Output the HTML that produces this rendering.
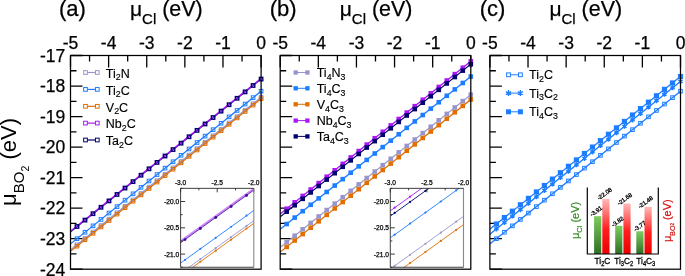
<!DOCTYPE html><html><head><meta charset="utf-8"><style>html,body{margin:0;padding:0;background:#fff;overflow:hidden}svg{display:block;will-change:transform}</style></head><body><svg width="685" height="276" viewBox="0 0 685 276" font-family='"Liberation Sans", sans-serif'>
<rect width="685" height="276" fill="#fff"/>
<path d="M70.5,55.5v12M89.56,55.5v6M108.62,55.5v12M127.68,55.5v6M146.74,55.5v12M165.8,55.5v6M184.86,55.5v12M203.92,55.5v6M222.98,55.5v12M242.04,55.5v6M261.1,55.5v12M70.5,55.5h12M70.5,70.76h6M70.5,86.03h12M70.5,101.29h6M70.5,116.56h12M70.5,131.82h6M70.5,147.09h12M70.5,162.35h6M70.5,177.61h12M70.5,192.88h6M70.5,208.14h12M70.5,223.41h6M70.5,238.67h12M70.5,253.94h6M70.5,269.2h12" stroke="#000" stroke-width="1.3" fill="none"/>
<clipPath id="cp0"><rect x="70.5" y="55.5" width="190.6" height="213.7"/></clipPath>
<g clip-path="url(#cp0)">
<line x1="62.88" y1="256.07" x2="261.1" y2="97.32" stroke="rgb(150,150,205)" stroke-width="1.3"/>
</g>
<rect x="259.3" y="95.52" width="3.6" height="3.6" fill="none" stroke="rgb(150,150,205)" stroke-width="1.0"/>
<rect x="251.29" y="101.94" width="3.6" height="3.6" fill="none" stroke="rgb(150,150,205)" stroke-width="1.0"/>
<rect x="243.29" y="108.35" width="3.6" height="3.6" fill="none" stroke="rgb(150,150,205)" stroke-width="1.0"/>
<rect x="235.28" y="114.76" width="3.6" height="3.6" fill="none" stroke="rgb(150,150,205)" stroke-width="1.0"/>
<rect x="227.28" y="121.17" width="3.6" height="3.6" fill="none" stroke="rgb(150,150,205)" stroke-width="1.0"/>
<rect x="219.27" y="127.58" width="3.6" height="3.6" fill="none" stroke="rgb(150,150,205)" stroke-width="1.0"/>
<rect x="211.27" y="133.99" width="3.6" height="3.6" fill="none" stroke="rgb(150,150,205)" stroke-width="1.0"/>
<rect x="203.26" y="140.4" width="3.6" height="3.6" fill="none" stroke="rgb(150,150,205)" stroke-width="1.0"/>
<rect x="195.26" y="146.81" width="3.6" height="3.6" fill="none" stroke="rgb(150,150,205)" stroke-width="1.0"/>
<rect x="187.25" y="153.22" width="3.6" height="3.6" fill="none" stroke="rgb(150,150,205)" stroke-width="1.0"/>
<rect x="179.25" y="159.63" width="3.6" height="3.6" fill="none" stroke="rgb(150,150,205)" stroke-width="1.0"/>
<rect x="171.24" y="166.05" width="3.6" height="3.6" fill="none" stroke="rgb(150,150,205)" stroke-width="1.0"/>
<rect x="163.24" y="172.46" width="3.6" height="3.6" fill="none" stroke="rgb(150,150,205)" stroke-width="1.0"/>
<rect x="155.23" y="178.87" width="3.6" height="3.6" fill="none" stroke="rgb(150,150,205)" stroke-width="1.0"/>
<rect x="147.23" y="185.28" width="3.6" height="3.6" fill="none" stroke="rgb(150,150,205)" stroke-width="1.0"/>
<rect x="139.22" y="191.69" width="3.6" height="3.6" fill="none" stroke="rgb(150,150,205)" stroke-width="1.0"/>
<rect x="131.22" y="198.1" width="3.6" height="3.6" fill="none" stroke="rgb(150,150,205)" stroke-width="1.0"/>
<rect x="123.21" y="204.51" width="3.6" height="3.6" fill="none" stroke="rgb(150,150,205)" stroke-width="1.0"/>
<rect x="115.21" y="210.92" width="3.6" height="3.6" fill="none" stroke="rgb(150,150,205)" stroke-width="1.0"/>
<rect x="107.2" y="217.33" width="3.6" height="3.6" fill="none" stroke="rgb(150,150,205)" stroke-width="1.0"/>
<rect x="99.2" y="223.74" width="3.6" height="3.6" fill="none" stroke="rgb(150,150,205)" stroke-width="1.0"/>
<rect x="91.19" y="230.16" width="3.6" height="3.6" fill="none" stroke="rgb(150,150,205)" stroke-width="1.0"/>
<rect x="83.19" y="236.57" width="3.6" height="3.6" fill="none" stroke="rgb(150,150,205)" stroke-width="1.0"/>
<rect x="75.18" y="242.98" width="3.6" height="3.6" fill="none" stroke="rgb(150,150,205)" stroke-width="1.0"/>
<g clip-path="url(#cp0)">
<line x1="62.88" y1="249.97" x2="261.1" y2="91.22" stroke="rgb(30,125,255)" stroke-width="1.3"/>
</g>
<rect x="259.3" y="89.42" width="3.6" height="3.6" fill="none" stroke="rgb(30,125,255)" stroke-width="1.0"/>
<rect x="251.29" y="95.83" width="3.6" height="3.6" fill="none" stroke="rgb(30,125,255)" stroke-width="1.0"/>
<rect x="243.29" y="102.24" width="3.6" height="3.6" fill="none" stroke="rgb(30,125,255)" stroke-width="1.0"/>
<rect x="235.28" y="108.65" width="3.6" height="3.6" fill="none" stroke="rgb(30,125,255)" stroke-width="1.0"/>
<rect x="227.28" y="115.06" width="3.6" height="3.6" fill="none" stroke="rgb(30,125,255)" stroke-width="1.0"/>
<rect x="219.27" y="121.47" width="3.6" height="3.6" fill="none" stroke="rgb(30,125,255)" stroke-width="1.0"/>
<rect x="211.27" y="127.88" width="3.6" height="3.6" fill="none" stroke="rgb(30,125,255)" stroke-width="1.0"/>
<rect x="203.26" y="134.3" width="3.6" height="3.6" fill="none" stroke="rgb(30,125,255)" stroke-width="1.0"/>
<rect x="195.26" y="140.71" width="3.6" height="3.6" fill="none" stroke="rgb(30,125,255)" stroke-width="1.0"/>
<rect x="187.25" y="147.12" width="3.6" height="3.6" fill="none" stroke="rgb(30,125,255)" stroke-width="1.0"/>
<rect x="179.25" y="153.53" width="3.6" height="3.6" fill="none" stroke="rgb(30,125,255)" stroke-width="1.0"/>
<rect x="171.24" y="159.94" width="3.6" height="3.6" fill="none" stroke="rgb(30,125,255)" stroke-width="1.0"/>
<rect x="163.24" y="166.35" width="3.6" height="3.6" fill="none" stroke="rgb(30,125,255)" stroke-width="1.0"/>
<rect x="155.23" y="172.76" width="3.6" height="3.6" fill="none" stroke="rgb(30,125,255)" stroke-width="1.0"/>
<rect x="147.23" y="179.17" width="3.6" height="3.6" fill="none" stroke="rgb(30,125,255)" stroke-width="1.0"/>
<rect x="139.22" y="185.58" width="3.6" height="3.6" fill="none" stroke="rgb(30,125,255)" stroke-width="1.0"/>
<rect x="131.22" y="191.99" width="3.6" height="3.6" fill="none" stroke="rgb(30,125,255)" stroke-width="1.0"/>
<rect x="123.21" y="198.41" width="3.6" height="3.6" fill="none" stroke="rgb(30,125,255)" stroke-width="1.0"/>
<rect x="115.21" y="204.82" width="3.6" height="3.6" fill="none" stroke="rgb(30,125,255)" stroke-width="1.0"/>
<rect x="107.2" y="211.23" width="3.6" height="3.6" fill="none" stroke="rgb(30,125,255)" stroke-width="1.0"/>
<rect x="99.2" y="217.64" width="3.6" height="3.6" fill="none" stroke="rgb(30,125,255)" stroke-width="1.0"/>
<rect x="91.19" y="224.05" width="3.6" height="3.6" fill="none" stroke="rgb(30,125,255)" stroke-width="1.0"/>
<rect x="83.19" y="230.46" width="3.6" height="3.6" fill="none" stroke="rgb(30,125,255)" stroke-width="1.0"/>
<rect x="75.18" y="236.87" width="3.6" height="3.6" fill="none" stroke="rgb(30,125,255)" stroke-width="1.0"/>
<g clip-path="url(#cp0)">
<line x1="62.88" y1="257.45" x2="261.1" y2="98.7" stroke="rgb(225,110,0)" stroke-width="1.3"/>
</g>
<rect x="259.3" y="96.9" width="3.6" height="3.6" fill="none" stroke="rgb(225,110,0)" stroke-width="1.0"/>
<rect x="251.29" y="103.31" width="3.6" height="3.6" fill="none" stroke="rgb(225,110,0)" stroke-width="1.0"/>
<rect x="243.29" y="109.72" width="3.6" height="3.6" fill="none" stroke="rgb(225,110,0)" stroke-width="1.0"/>
<rect x="235.28" y="116.13" width="3.6" height="3.6" fill="none" stroke="rgb(225,110,0)" stroke-width="1.0"/>
<rect x="227.28" y="122.54" width="3.6" height="3.6" fill="none" stroke="rgb(225,110,0)" stroke-width="1.0"/>
<rect x="219.27" y="128.95" width="3.6" height="3.6" fill="none" stroke="rgb(225,110,0)" stroke-width="1.0"/>
<rect x="211.27" y="135.36" width="3.6" height="3.6" fill="none" stroke="rgb(225,110,0)" stroke-width="1.0"/>
<rect x="203.26" y="141.77" width="3.6" height="3.6" fill="none" stroke="rgb(225,110,0)" stroke-width="1.0"/>
<rect x="195.26" y="148.19" width="3.6" height="3.6" fill="none" stroke="rgb(225,110,0)" stroke-width="1.0"/>
<rect x="187.25" y="154.6" width="3.6" height="3.6" fill="none" stroke="rgb(225,110,0)" stroke-width="1.0"/>
<rect x="179.25" y="161.01" width="3.6" height="3.6" fill="none" stroke="rgb(225,110,0)" stroke-width="1.0"/>
<rect x="171.24" y="167.42" width="3.6" height="3.6" fill="none" stroke="rgb(225,110,0)" stroke-width="1.0"/>
<rect x="163.24" y="173.83" width="3.6" height="3.6" fill="none" stroke="rgb(225,110,0)" stroke-width="1.0"/>
<rect x="155.23" y="180.24" width="3.6" height="3.6" fill="none" stroke="rgb(225,110,0)" stroke-width="1.0"/>
<rect x="147.23" y="186.65" width="3.6" height="3.6" fill="none" stroke="rgb(225,110,0)" stroke-width="1.0"/>
<rect x="139.22" y="193.06" width="3.6" height="3.6" fill="none" stroke="rgb(225,110,0)" stroke-width="1.0"/>
<rect x="131.22" y="199.47" width="3.6" height="3.6" fill="none" stroke="rgb(225,110,0)" stroke-width="1.0"/>
<rect x="123.21" y="205.88" width="3.6" height="3.6" fill="none" stroke="rgb(225,110,0)" stroke-width="1.0"/>
<rect x="115.21" y="212.3" width="3.6" height="3.6" fill="none" stroke="rgb(225,110,0)" stroke-width="1.0"/>
<rect x="107.2" y="218.71" width="3.6" height="3.6" fill="none" stroke="rgb(225,110,0)" stroke-width="1.0"/>
<rect x="99.2" y="225.12" width="3.6" height="3.6" fill="none" stroke="rgb(225,110,0)" stroke-width="1.0"/>
<rect x="91.19" y="231.53" width="3.6" height="3.6" fill="none" stroke="rgb(225,110,0)" stroke-width="1.0"/>
<rect x="83.19" y="237.94" width="3.6" height="3.6" fill="none" stroke="rgb(225,110,0)" stroke-width="1.0"/>
<rect x="75.18" y="244.35" width="3.6" height="3.6" fill="none" stroke="rgb(225,110,0)" stroke-width="1.0"/>
<g clip-path="url(#cp0)">
<line x1="62.88" y1="237.82" x2="261.1" y2="79.07" stroke="rgb(0,0,110)" stroke-width="1.3"/>
</g>
<g clip-path="url(#cp0)">
<line x1="62.88" y1="237.36" x2="261.1" y2="78.61" stroke="rgb(170,25,245)" stroke-width="1.5"/>
</g>
<rect x="259.4" y="77.37" width="3.4" height="3.4" fill="none" stroke="rgb(0,0,110)" stroke-width="1.4"/>
<rect x="251.39" y="83.78" width="3.4" height="3.4" fill="none" stroke="rgb(0,0,110)" stroke-width="1.4"/>
<rect x="243.39" y="90.19" width="3.4" height="3.4" fill="none" stroke="rgb(0,0,110)" stroke-width="1.4"/>
<rect x="235.38" y="96.6" width="3.4" height="3.4" fill="none" stroke="rgb(0,0,110)" stroke-width="1.4"/>
<rect x="227.38" y="103.01" width="3.4" height="3.4" fill="none" stroke="rgb(0,0,110)" stroke-width="1.4"/>
<rect x="219.37" y="109.42" width="3.4" height="3.4" fill="none" stroke="rgb(0,0,110)" stroke-width="1.4"/>
<rect x="211.37" y="115.83" width="3.4" height="3.4" fill="none" stroke="rgb(0,0,110)" stroke-width="1.4"/>
<rect x="203.36" y="122.25" width="3.4" height="3.4" fill="none" stroke="rgb(0,0,110)" stroke-width="1.4"/>
<rect x="195.36" y="128.66" width="3.4" height="3.4" fill="none" stroke="rgb(0,0,110)" stroke-width="1.4"/>
<rect x="187.35" y="135.07" width="3.4" height="3.4" fill="none" stroke="rgb(0,0,110)" stroke-width="1.4"/>
<rect x="179.35" y="141.48" width="3.4" height="3.4" fill="none" stroke="rgb(0,0,110)" stroke-width="1.4"/>
<rect x="171.34" y="147.89" width="3.4" height="3.4" fill="none" stroke="rgb(0,0,110)" stroke-width="1.4"/>
<rect x="163.34" y="154.3" width="3.4" height="3.4" fill="none" stroke="rgb(0,0,110)" stroke-width="1.4"/>
<rect x="155.33" y="160.71" width="3.4" height="3.4" fill="none" stroke="rgb(0,0,110)" stroke-width="1.4"/>
<rect x="147.33" y="167.12" width="3.4" height="3.4" fill="none" stroke="rgb(0,0,110)" stroke-width="1.4"/>
<rect x="139.32" y="173.53" width="3.4" height="3.4" fill="none" stroke="rgb(0,0,110)" stroke-width="1.4"/>
<rect x="131.32" y="179.94" width="3.4" height="3.4" fill="none" stroke="rgb(0,0,110)" stroke-width="1.4"/>
<rect x="123.31" y="186.36" width="3.4" height="3.4" fill="none" stroke="rgb(0,0,110)" stroke-width="1.4"/>
<rect x="115.31" y="192.77" width="3.4" height="3.4" fill="none" stroke="rgb(0,0,110)" stroke-width="1.4"/>
<rect x="107.3" y="199.18" width="3.4" height="3.4" fill="none" stroke="rgb(0,0,110)" stroke-width="1.4"/>
<rect x="99.3" y="205.59" width="3.4" height="3.4" fill="none" stroke="rgb(0,0,110)" stroke-width="1.4"/>
<rect x="91.29" y="212" width="3.4" height="3.4" fill="none" stroke="rgb(0,0,110)" stroke-width="1.4"/>
<rect x="83.29" y="218.41" width="3.4" height="3.4" fill="none" stroke="rgb(0,0,110)" stroke-width="1.4"/>
<rect x="75.28" y="224.82" width="3.4" height="3.4" fill="none" stroke="rgb(0,0,110)" stroke-width="1.4"/>
<rect x="70.5" y="55.5" width="190.6" height="213.7" fill="none" stroke="#000" stroke-width="1.25"/>
<text x="70.5" y="48.8" font-size="17.5" text-anchor="middle" fill="#000" stroke="#000" stroke-width="0.25">-5</text>
<text x="108.62" y="48.8" font-size="17.5" text-anchor="middle" fill="#000" stroke="#000" stroke-width="0.25">-4</text>
<text x="146.74" y="48.8" font-size="17.5" text-anchor="middle" fill="#000" stroke="#000" stroke-width="0.25">-3</text>
<text x="184.86" y="48.8" font-size="17.5" text-anchor="middle" fill="#000" stroke="#000" stroke-width="0.25">-2</text>
<text x="222.98" y="48.8" font-size="17.5" text-anchor="middle" fill="#000" stroke="#000" stroke-width="0.25">-1</text>
<text x="261.1" y="48.8" font-size="17.5" text-anchor="middle" fill="#000" stroke="#000" stroke-width="0.25">0</text>
<text x="65.3" y="61.8" font-size="17.5" text-anchor="end" fill="#000" stroke="#000" stroke-width="0.25">-17</text>
<text x="65.3" y="92.33" font-size="17.5" text-anchor="end" fill="#000" stroke="#000" stroke-width="0.25">-18</text>
<text x="65.3" y="122.86" font-size="17.5" text-anchor="end" fill="#000" stroke="#000" stroke-width="0.25">-19</text>
<text x="65.3" y="153.39" font-size="17.5" text-anchor="end" fill="#000" stroke="#000" stroke-width="0.25">-20</text>
<text x="65.3" y="183.91" font-size="17.5" text-anchor="end" fill="#000" stroke="#000" stroke-width="0.25">-21</text>
<text x="65.3" y="214.44" font-size="17.5" text-anchor="end" fill="#000" stroke="#000" stroke-width="0.25">-22</text>
<text x="65.3" y="244.97" font-size="17.5" text-anchor="end" fill="#000" stroke="#000" stroke-width="0.25">-23</text>
<text x="65.3" y="275.5" font-size="17.5" text-anchor="end" fill="#000" stroke="#000" stroke-width="0.25">-24</text>
<text x="58.9" y="16.4" font-size="22" text-anchor="start" fill="#000" stroke="#000" stroke-width="0.25">(a)</text>
<text x="130" y="16.4" font-size="22" text-anchor="start" fill="#000" stroke="#000" stroke-width="0.25"><tspan font-size="21">μ</tspan><tspan font-size="15" dy="7.9">Cl</tspan><tspan dy="-7.9" font-size="21.4"> (eV)</tspan></text>
<line x1="85.5" y1="72.5" x2="97.3" y2="72.5" stroke="rgb(150,150,205)" stroke-width="1.2"/>
<rect x="83.65" y="70.65" width="3.7" height="3.7" fill="#fff" stroke="rgb(150,150,205)" stroke-width="1.0"/>
<rect x="95.45" y="70.65" width="3.7" height="3.7" fill="#fff" stroke="rgb(150,150,205)" stroke-width="1.0"/>
<text x="105.8" y="77.7" font-size="12.5" text-anchor="start" fill="#000" stroke="#000" stroke-width="0.15"><tspan dy="0">Ti</tspan><tspan font-size="8.8" dy="2.7">2</tspan><tspan dy="-2.7">N</tspan></text>
<line x1="85.5" y1="89.4" x2="97.3" y2="89.4" stroke="rgb(30,125,255)" stroke-width="1.2"/>
<rect x="83.65" y="87.55" width="3.7" height="3.7" fill="#fff" stroke="rgb(30,125,255)" stroke-width="1.0"/>
<rect x="95.45" y="87.55" width="3.7" height="3.7" fill="#fff" stroke="rgb(30,125,255)" stroke-width="1.0"/>
<text x="105.8" y="94.6" font-size="12.5" text-anchor="start" fill="#000" stroke="#000" stroke-width="0.15"><tspan dy="0">Ti</tspan><tspan font-size="8.8" dy="2.7">2</tspan><tspan dy="-2.7">C</tspan></text>
<line x1="85.5" y1="106.3" x2="97.3" y2="106.3" stroke="rgb(225,110,0)" stroke-width="1.2"/>
<rect x="83.65" y="104.45" width="3.7" height="3.7" fill="#fff" stroke="rgb(225,110,0)" stroke-width="1.0"/>
<rect x="95.45" y="104.45" width="3.7" height="3.7" fill="#fff" stroke="rgb(225,110,0)" stroke-width="1.0"/>
<text x="105.8" y="111.5" font-size="12.5" text-anchor="start" fill="#000" stroke="#000" stroke-width="0.15"><tspan dy="0">V</tspan><tspan font-size="8.8" dy="2.7">2</tspan><tspan dy="-2.7">C</tspan></text>
<line x1="85.5" y1="123.1" x2="97.3" y2="123.1" stroke="rgb(170,25,245)" stroke-width="1.2"/>
<rect x="83.65" y="121.25" width="3.7" height="3.7" fill="#fff" stroke="rgb(170,25,245)" stroke-width="1.0"/>
<rect x="95.45" y="121.25" width="3.7" height="3.7" fill="#fff" stroke="rgb(170,25,245)" stroke-width="1.0"/>
<text x="105.8" y="128.3" font-size="12.5" text-anchor="start" fill="#000" stroke="#000" stroke-width="0.15"><tspan dy="0">Nb</tspan><tspan font-size="8.8" dy="2.7">2</tspan><tspan dy="-2.7">C</tspan></text>
<line x1="85.5" y1="140" x2="97.3" y2="140" stroke="rgb(0,0,110)" stroke-width="1.2"/>
<rect x="83.65" y="138.15" width="3.7" height="3.7" fill="#fff" stroke="rgb(0,0,110)" stroke-width="1.0"/>
<rect x="95.45" y="138.15" width="3.7" height="3.7" fill="#fff" stroke="rgb(0,0,110)" stroke-width="1.0"/>
<text x="105.8" y="145.2" font-size="12.5" text-anchor="start" fill="#000" stroke="#000" stroke-width="0.15"><tspan dy="0">Ta</tspan><tspan font-size="8.8" dy="2.7">2</tspan><tspan dy="-2.7">C</tspan></text>
<rect x="180.6" y="188.35" width="73.2" height="78.9" fill="#fff"/>
<clipPath id="ic0"><rect x="180.6" y="188.35" width="73.2" height="78.9"/></clipPath>
<g clip-path="url(#ic0)">
<line x1="165.96" y1="283.82" x2="268.44" y2="210.18" stroke="rgb(150,150,205)" stroke-width="0.9"/>
<circle cx="261.85" cy="214.91" r="1.1" fill="rgb(150,150,205)"/>
<circle cx="246.48" cy="225.96" r="1.1" fill="rgb(150,150,205)"/>
<circle cx="231.11" cy="237" r="1.1" fill="rgb(150,150,205)"/>
<circle cx="215.74" cy="248.05" r="1.1" fill="rgb(150,150,205)"/>
<circle cx="200.36" cy="259.1" r="1.1" fill="rgb(150,150,205)"/>
<circle cx="184.99" cy="270.14" r="1.1" fill="rgb(150,150,205)"/>
<circle cx="169.62" cy="281.19" r="1.1" fill="rgb(150,150,205)"/>
<line x1="165.96" y1="273.56" x2="268.44" y2="199.92" stroke="rgb(30,125,255)" stroke-width="0.9"/>
<circle cx="261.85" cy="204.66" r="1.1" fill="rgb(30,125,255)"/>
<circle cx="246.48" cy="215.7" r="1.1" fill="rgb(30,125,255)"/>
<circle cx="231.11" cy="226.75" r="1.1" fill="rgb(30,125,255)"/>
<circle cx="215.74" cy="237.79" r="1.1" fill="rgb(30,125,255)"/>
<circle cx="200.36" cy="248.84" r="1.1" fill="rgb(30,125,255)"/>
<circle cx="184.99" cy="259.89" r="1.1" fill="rgb(30,125,255)"/>
<circle cx="169.62" cy="270.93" r="1.1" fill="rgb(30,125,255)"/>
<line x1="165.96" y1="286.45" x2="268.44" y2="212.81" stroke="rgb(225,110,0)" stroke-width="0.9"/>
<circle cx="261.85" cy="217.54" r="1.1" fill="rgb(225,110,0)"/>
<circle cx="246.48" cy="228.59" r="1.1" fill="rgb(225,110,0)"/>
<circle cx="231.11" cy="239.63" r="1.1" fill="rgb(225,110,0)"/>
<circle cx="215.74" cy="250.68" r="1.1" fill="rgb(225,110,0)"/>
<circle cx="200.36" cy="261.73" r="1.1" fill="rgb(225,110,0)"/>
<circle cx="184.99" cy="272.77" r="1.1" fill="rgb(225,110,0)"/>
<circle cx="169.62" cy="283.82" r="1.1" fill="rgb(225,110,0)"/>
<line x1="165.96" y1="251.92" x2="268.44" y2="178.28" stroke="rgb(205,132,250)" stroke-width="2.0"/>
<line x1="165.96" y1="253.28" x2="268.44" y2="179.64" stroke="rgb(60,15,150)" stroke-width="0.8"/>
<circle cx="261.85" cy="184.38" r="1.45" fill="rgb(60,15,150)"/>
<circle cx="246.48" cy="195.43" r="1.45" fill="rgb(60,15,150)"/>
<circle cx="231.11" cy="206.47" r="1.45" fill="rgb(60,15,150)"/>
<circle cx="215.74" cy="217.52" r="1.45" fill="rgb(60,15,150)"/>
<circle cx="200.36" cy="228.56" r="1.45" fill="rgb(60,15,150)"/>
<circle cx="184.99" cy="239.61" r="1.45" fill="rgb(60,15,150)"/>
<circle cx="169.62" cy="250.65" r="1.45" fill="rgb(60,15,150)"/>
</g>
<path d="M180.6,188.35v4M198.9,188.35v2M217.2,188.35v4M235.5,188.35v2M253.8,188.35v4M180.6,188.35h2M180.6,201.5h4.5M180.6,214.65h2M180.6,227.8h4.5M180.6,240.95h2M180.6,254.1h4.5M180.6,267.25h2" stroke="#222" stroke-width="0.9" fill="none"/>
<path d="M253.8,188.35V267.25" stroke="#888" stroke-width="1.1" fill="none"/>
<path d="M253.8,188.35H180.6V267.25H253.8" stroke="#2a2a2a" stroke-width="0.9" fill="none"/>
<text x="180.6" y="185" font-size="6.6" text-anchor="middle" fill="#000" stroke="#000" stroke-width="0.25">-3.0</text>
<text x="217.2" y="185" font-size="6.6" text-anchor="middle" fill="#000" stroke="#000" stroke-width="0.25">-2.5</text>
<text x="253.8" y="185" font-size="6.6" text-anchor="middle" fill="#000" stroke="#000" stroke-width="0.25">-2.0</text>
<text x="179.2" y="203.9" font-size="6.6" text-anchor="end" fill="#000" stroke="#000" stroke-width="0.25">-20.0</text>
<text x="179.2" y="230.2" font-size="6.6" text-anchor="end" fill="#000" stroke="#000" stroke-width="0.25">-20.5</text>
<text x="179.2" y="256.5" font-size="6.6" text-anchor="end" fill="#000" stroke="#000" stroke-width="0.25">-21.0</text>
<path d="M280.2,55.5v12M299.26,55.5v6M318.32,55.5v12M337.38,55.5v6M356.44,55.5v12M375.5,55.5v6M394.56,55.5v12M413.62,55.5v6M432.68,55.5v12M451.74,55.5v6M470.8,55.5v12M280.2,55.5h12M280.2,70.76h6M280.2,86.03h12M280.2,101.29h6M280.2,116.56h12M280.2,131.82h6M280.2,147.09h12M280.2,162.35h6M280.2,177.61h12M280.2,192.88h6M280.2,208.14h12M280.2,223.41h6M280.2,238.67h12M280.2,253.94h6M280.2,269.2h12" stroke="#000" stroke-width="1.3" fill="none"/>
<clipPath id="cp1"><rect x="280.2" y="55.5" width="190.6" height="213.7"/></clipPath>
<g clip-path="url(#cp1)">
<line x1="272.58" y1="253.42" x2="470.8" y2="94.67" stroke="rgb(150,150,205)" stroke-width="1.3"/>
</g>
<rect x="468.5" y="92.37" width="4.6" height="4.6" fill="rgb(150,150,205)"/>
<rect x="460.49" y="98.78" width="4.6" height="4.6" fill="rgb(150,150,205)"/>
<rect x="452.49" y="105.19" width="4.6" height="4.6" fill="rgb(150,150,205)"/>
<rect x="444.48" y="111.6" width="4.6" height="4.6" fill="rgb(150,150,205)"/>
<rect x="436.48" y="118.01" width="4.6" height="4.6" fill="rgb(150,150,205)"/>
<rect x="428.47" y="124.42" width="4.6" height="4.6" fill="rgb(150,150,205)"/>
<rect x="420.47" y="130.83" width="4.6" height="4.6" fill="rgb(150,150,205)"/>
<rect x="412.46" y="137.25" width="4.6" height="4.6" fill="rgb(150,150,205)"/>
<rect x="404.46" y="143.66" width="4.6" height="4.6" fill="rgb(150,150,205)"/>
<rect x="396.45" y="150.07" width="4.6" height="4.6" fill="rgb(150,150,205)"/>
<rect x="388.45" y="156.48" width="4.6" height="4.6" fill="rgb(150,150,205)"/>
<rect x="380.44" y="162.89" width="4.6" height="4.6" fill="rgb(150,150,205)"/>
<rect x="372.44" y="169.3" width="4.6" height="4.6" fill="rgb(150,150,205)"/>
<rect x="364.43" y="175.71" width="4.6" height="4.6" fill="rgb(150,150,205)"/>
<rect x="356.43" y="182.12" width="4.6" height="4.6" fill="rgb(150,150,205)"/>
<rect x="348.42" y="188.53" width="4.6" height="4.6" fill="rgb(150,150,205)"/>
<rect x="340.42" y="194.94" width="4.6" height="4.6" fill="rgb(150,150,205)"/>
<rect x="332.41" y="201.36" width="4.6" height="4.6" fill="rgb(150,150,205)"/>
<rect x="324.41" y="207.77" width="4.6" height="4.6" fill="rgb(150,150,205)"/>
<rect x="316.4" y="214.18" width="4.6" height="4.6" fill="rgb(150,150,205)"/>
<rect x="308.4" y="220.59" width="4.6" height="4.6" fill="rgb(150,150,205)"/>
<rect x="300.39" y="227" width="4.6" height="4.6" fill="rgb(150,150,205)"/>
<rect x="292.39" y="233.41" width="4.6" height="4.6" fill="rgb(150,150,205)"/>
<rect x="284.38" y="239.82" width="4.6" height="4.6" fill="rgb(150,150,205)"/>
<g clip-path="url(#cp1)">
<line x1="272.58" y1="235.31" x2="470.8" y2="76.56" stroke="rgb(30,125,255)" stroke-width="1.3"/>
</g>
<rect x="468.5" y="74.26" width="4.6" height="4.6" fill="rgb(30,125,255)"/>
<rect x="460.49" y="80.68" width="4.6" height="4.6" fill="rgb(30,125,255)"/>
<rect x="452.49" y="87.09" width="4.6" height="4.6" fill="rgb(30,125,255)"/>
<rect x="444.48" y="93.5" width="4.6" height="4.6" fill="rgb(30,125,255)"/>
<rect x="436.48" y="99.91" width="4.6" height="4.6" fill="rgb(30,125,255)"/>
<rect x="428.47" y="106.32" width="4.6" height="4.6" fill="rgb(30,125,255)"/>
<rect x="420.47" y="112.73" width="4.6" height="4.6" fill="rgb(30,125,255)"/>
<rect x="412.46" y="119.14" width="4.6" height="4.6" fill="rgb(30,125,255)"/>
<rect x="404.46" y="125.55" width="4.6" height="4.6" fill="rgb(30,125,255)"/>
<rect x="396.45" y="131.96" width="4.6" height="4.6" fill="rgb(30,125,255)"/>
<rect x="388.45" y="138.37" width="4.6" height="4.6" fill="rgb(30,125,255)"/>
<rect x="380.44" y="144.79" width="4.6" height="4.6" fill="rgb(30,125,255)"/>
<rect x="372.44" y="151.2" width="4.6" height="4.6" fill="rgb(30,125,255)"/>
<rect x="364.43" y="157.61" width="4.6" height="4.6" fill="rgb(30,125,255)"/>
<rect x="356.43" y="164.02" width="4.6" height="4.6" fill="rgb(30,125,255)"/>
<rect x="348.42" y="170.43" width="4.6" height="4.6" fill="rgb(30,125,255)"/>
<rect x="340.42" y="176.84" width="4.6" height="4.6" fill="rgb(30,125,255)"/>
<rect x="332.41" y="183.25" width="4.6" height="4.6" fill="rgb(30,125,255)"/>
<rect x="324.41" y="189.66" width="4.6" height="4.6" fill="rgb(30,125,255)"/>
<rect x="316.4" y="196.07" width="4.6" height="4.6" fill="rgb(30,125,255)"/>
<rect x="308.4" y="202.48" width="4.6" height="4.6" fill="rgb(30,125,255)"/>
<rect x="300.39" y="208.9" width="4.6" height="4.6" fill="rgb(30,125,255)"/>
<rect x="292.39" y="215.31" width="4.6" height="4.6" fill="rgb(30,125,255)"/>
<rect x="284.38" y="221.72" width="4.6" height="4.6" fill="rgb(30,125,255)"/>
<g clip-path="url(#cp1)">
<line x1="272.58" y1="258.21" x2="470.8" y2="99.46" stroke="rgb(225,110,0)" stroke-width="1.3"/>
</g>
<rect x="468.5" y="97.16" width="4.6" height="4.6" fill="rgb(225,110,0)"/>
<rect x="460.49" y="103.57" width="4.6" height="4.6" fill="rgb(225,110,0)"/>
<rect x="452.49" y="109.98" width="4.6" height="4.6" fill="rgb(225,110,0)"/>
<rect x="444.48" y="116.39" width="4.6" height="4.6" fill="rgb(225,110,0)"/>
<rect x="436.48" y="122.81" width="4.6" height="4.6" fill="rgb(225,110,0)"/>
<rect x="428.47" y="129.22" width="4.6" height="4.6" fill="rgb(225,110,0)"/>
<rect x="420.47" y="135.63" width="4.6" height="4.6" fill="rgb(225,110,0)"/>
<rect x="412.46" y="142.04" width="4.6" height="4.6" fill="rgb(225,110,0)"/>
<rect x="404.46" y="148.45" width="4.6" height="4.6" fill="rgb(225,110,0)"/>
<rect x="396.45" y="154.86" width="4.6" height="4.6" fill="rgb(225,110,0)"/>
<rect x="388.45" y="161.27" width="4.6" height="4.6" fill="rgb(225,110,0)"/>
<rect x="380.44" y="167.68" width="4.6" height="4.6" fill="rgb(225,110,0)"/>
<rect x="372.44" y="174.09" width="4.6" height="4.6" fill="rgb(225,110,0)"/>
<rect x="364.43" y="180.5" width="4.6" height="4.6" fill="rgb(225,110,0)"/>
<rect x="356.43" y="186.92" width="4.6" height="4.6" fill="rgb(225,110,0)"/>
<rect x="348.42" y="193.33" width="4.6" height="4.6" fill="rgb(225,110,0)"/>
<rect x="340.42" y="199.74" width="4.6" height="4.6" fill="rgb(225,110,0)"/>
<rect x="332.41" y="206.15" width="4.6" height="4.6" fill="rgb(225,110,0)"/>
<rect x="324.41" y="212.56" width="4.6" height="4.6" fill="rgb(225,110,0)"/>
<rect x="316.4" y="218.97" width="4.6" height="4.6" fill="rgb(225,110,0)"/>
<rect x="308.4" y="225.38" width="4.6" height="4.6" fill="rgb(225,110,0)"/>
<rect x="300.39" y="231.79" width="4.6" height="4.6" fill="rgb(225,110,0)"/>
<rect x="292.39" y="238.2" width="4.6" height="4.6" fill="rgb(225,110,0)"/>
<rect x="284.38" y="244.61" width="4.6" height="4.6" fill="rgb(225,110,0)"/>
<g clip-path="url(#cp1)">
<line x1="272.58" y1="220.05" x2="470.8" y2="61.3" stroke="rgb(170,25,245)" stroke-width="1.3"/>
</g>
<rect x="468.5" y="59" width="4.6" height="4.6" fill="rgb(170,25,245)"/>
<rect x="460.49" y="65.41" width="4.6" height="4.6" fill="rgb(170,25,245)"/>
<rect x="452.49" y="71.82" width="4.6" height="4.6" fill="rgb(170,25,245)"/>
<rect x="444.48" y="78.23" width="4.6" height="4.6" fill="rgb(170,25,245)"/>
<rect x="436.48" y="84.64" width="4.6" height="4.6" fill="rgb(170,25,245)"/>
<rect x="428.47" y="91.06" width="4.6" height="4.6" fill="rgb(170,25,245)"/>
<rect x="420.47" y="97.47" width="4.6" height="4.6" fill="rgb(170,25,245)"/>
<rect x="412.46" y="103.88" width="4.6" height="4.6" fill="rgb(170,25,245)"/>
<rect x="404.46" y="110.29" width="4.6" height="4.6" fill="rgb(170,25,245)"/>
<rect x="396.45" y="116.7" width="4.6" height="4.6" fill="rgb(170,25,245)"/>
<rect x="388.45" y="123.11" width="4.6" height="4.6" fill="rgb(170,25,245)"/>
<rect x="380.44" y="129.52" width="4.6" height="4.6" fill="rgb(170,25,245)"/>
<rect x="372.44" y="135.93" width="4.6" height="4.6" fill="rgb(170,25,245)"/>
<rect x="364.43" y="142.34" width="4.6" height="4.6" fill="rgb(170,25,245)"/>
<rect x="356.43" y="148.75" width="4.6" height="4.6" fill="rgb(170,25,245)"/>
<rect x="348.42" y="155.17" width="4.6" height="4.6" fill="rgb(170,25,245)"/>
<rect x="340.42" y="161.58" width="4.6" height="4.6" fill="rgb(170,25,245)"/>
<rect x="332.41" y="167.99" width="4.6" height="4.6" fill="rgb(170,25,245)"/>
<rect x="324.41" y="174.4" width="4.6" height="4.6" fill="rgb(170,25,245)"/>
<rect x="316.4" y="180.81" width="4.6" height="4.6" fill="rgb(170,25,245)"/>
<rect x="308.4" y="187.22" width="4.6" height="4.6" fill="rgb(170,25,245)"/>
<rect x="300.39" y="193.63" width="4.6" height="4.6" fill="rgb(170,25,245)"/>
<rect x="292.39" y="200.04" width="4.6" height="4.6" fill="rgb(170,25,245)"/>
<rect x="284.38" y="206.45" width="4.6" height="4.6" fill="rgb(170,25,245)"/>
<g clip-path="url(#cp1)">
<line x1="272.58" y1="222.95" x2="470.8" y2="64.2" stroke="rgb(0,0,110)" stroke-width="1.3"/>
</g>
<rect x="468.5" y="61.9" width="4.6" height="4.6" fill="rgb(0,0,110)"/>
<rect x="460.49" y="68.31" width="4.6" height="4.6" fill="rgb(0,0,110)"/>
<rect x="452.49" y="74.72" width="4.6" height="4.6" fill="rgb(0,0,110)"/>
<rect x="444.48" y="81.13" width="4.6" height="4.6" fill="rgb(0,0,110)"/>
<rect x="436.48" y="87.54" width="4.6" height="4.6" fill="rgb(0,0,110)"/>
<rect x="428.47" y="93.96" width="4.6" height="4.6" fill="rgb(0,0,110)"/>
<rect x="420.47" y="100.37" width="4.6" height="4.6" fill="rgb(0,0,110)"/>
<rect x="412.46" y="106.78" width="4.6" height="4.6" fill="rgb(0,0,110)"/>
<rect x="404.46" y="113.19" width="4.6" height="4.6" fill="rgb(0,0,110)"/>
<rect x="396.45" y="119.6" width="4.6" height="4.6" fill="rgb(0,0,110)"/>
<rect x="388.45" y="126.01" width="4.6" height="4.6" fill="rgb(0,0,110)"/>
<rect x="380.44" y="132.42" width="4.6" height="4.6" fill="rgb(0,0,110)"/>
<rect x="372.44" y="138.83" width="4.6" height="4.6" fill="rgb(0,0,110)"/>
<rect x="364.43" y="145.24" width="4.6" height="4.6" fill="rgb(0,0,110)"/>
<rect x="356.43" y="151.65" width="4.6" height="4.6" fill="rgb(0,0,110)"/>
<rect x="348.42" y="158.07" width="4.6" height="4.6" fill="rgb(0,0,110)"/>
<rect x="340.42" y="164.48" width="4.6" height="4.6" fill="rgb(0,0,110)"/>
<rect x="332.41" y="170.89" width="4.6" height="4.6" fill="rgb(0,0,110)"/>
<rect x="324.41" y="177.3" width="4.6" height="4.6" fill="rgb(0,0,110)"/>
<rect x="316.4" y="183.71" width="4.6" height="4.6" fill="rgb(0,0,110)"/>
<rect x="308.4" y="190.12" width="4.6" height="4.6" fill="rgb(0,0,110)"/>
<rect x="300.39" y="196.53" width="4.6" height="4.6" fill="rgb(0,0,110)"/>
<rect x="292.39" y="202.94" width="4.6" height="4.6" fill="rgb(0,0,110)"/>
<rect x="284.38" y="209.35" width="4.6" height="4.6" fill="rgb(0,0,110)"/>
<rect x="280.2" y="55.5" width="190.6" height="213.7" fill="none" stroke="#000" stroke-width="1.25"/>
<text x="280.2" y="48.8" font-size="17.5" text-anchor="middle" fill="#000" stroke="#000" stroke-width="0.25">-5</text>
<text x="318.32" y="48.8" font-size="17.5" text-anchor="middle" fill="#000" stroke="#000" stroke-width="0.25">-4</text>
<text x="356.44" y="48.8" font-size="17.5" text-anchor="middle" fill="#000" stroke="#000" stroke-width="0.25">-3</text>
<text x="394.56" y="48.8" font-size="17.5" text-anchor="middle" fill="#000" stroke="#000" stroke-width="0.25">-2</text>
<text x="432.68" y="48.8" font-size="17.5" text-anchor="middle" fill="#000" stroke="#000" stroke-width="0.25">-1</text>
<text x="470.8" y="48.8" font-size="17.5" text-anchor="middle" fill="#000" stroke="#000" stroke-width="0.25">0</text>
<text x="269.8" y="16.4" font-size="22" text-anchor="start" fill="#000" stroke="#000" stroke-width="0.25">(b)</text>
<text x="339.7" y="16.4" font-size="22" text-anchor="start" fill="#000" stroke="#000" stroke-width="0.25"><tspan font-size="21">μ</tspan><tspan font-size="15" dy="7.9">Cl</tspan><tspan dy="-7.9" font-size="21.4"> (eV)</tspan></text>
<line x1="295.7" y1="72.5" x2="307.4" y2="72.5" stroke="rgb(150,150,205)" stroke-width="1.0"/>
<rect x="293.55" y="70.35" width="4.3" height="4.3" fill="rgb(150,150,205)"/>
<rect x="305.25" y="70.35" width="4.3" height="4.3" fill="rgb(150,150,205)"/>
<text x="316.7" y="77.2" font-size="12.5" text-anchor="start" fill="#000" stroke="#000" stroke-width="0.15"><tspan dy="0">Ti</tspan><tspan font-size="8.8" dy="2.7">4</tspan><tspan dy="-2.7">N</tspan><tspan font-size="8.8" dy="2.7">3</tspan></text>
<line x1="295.7" y1="88.3" x2="307.4" y2="88.3" stroke="rgb(30,125,255)" stroke-width="1.0"/>
<rect x="293.55" y="86.15" width="4.3" height="4.3" fill="rgb(30,125,255)"/>
<rect x="305.25" y="86.15" width="4.3" height="4.3" fill="rgb(30,125,255)"/>
<text x="316.7" y="93" font-size="12.5" text-anchor="start" fill="#000" stroke="#000" stroke-width="0.15"><tspan dy="0">Ti</tspan><tspan font-size="8.8" dy="2.7">4</tspan><tspan dy="-2.7">C</tspan><tspan font-size="8.8" dy="2.7">3</tspan></text>
<line x1="295.7" y1="104.3" x2="307.4" y2="104.3" stroke="rgb(225,110,0)" stroke-width="1.0"/>
<rect x="293.55" y="102.15" width="4.3" height="4.3" fill="rgb(225,110,0)"/>
<rect x="305.25" y="102.15" width="4.3" height="4.3" fill="rgb(225,110,0)"/>
<text x="316.7" y="109" font-size="12.5" text-anchor="start" fill="#000" stroke="#000" stroke-width="0.15"><tspan dy="0">V</tspan><tspan font-size="8.8" dy="2.7">4</tspan><tspan dy="-2.7">C</tspan><tspan font-size="8.8" dy="2.7">3</tspan></text>
<line x1="295.7" y1="120.6" x2="307.4" y2="120.6" stroke="rgb(170,25,245)" stroke-width="1.0"/>
<rect x="293.55" y="118.45" width="4.3" height="4.3" fill="rgb(170,25,245)"/>
<rect x="305.25" y="118.45" width="4.3" height="4.3" fill="rgb(170,25,245)"/>
<text x="316.7" y="125.3" font-size="12.5" text-anchor="start" fill="#000" stroke="#000" stroke-width="0.15"><tspan dy="0">Nb</tspan><tspan font-size="8.8" dy="2.7">4</tspan><tspan dy="-2.7">C</tspan><tspan font-size="8.8" dy="2.7">3</tspan></text>
<line x1="295.7" y1="136.4" x2="307.4" y2="136.4" stroke="rgb(0,0,110)" stroke-width="1.0"/>
<rect x="293.55" y="134.25" width="4.3" height="4.3" fill="rgb(0,0,110)"/>
<rect x="305.25" y="134.25" width="4.3" height="4.3" fill="rgb(0,0,110)"/>
<text x="316.7" y="141.1" font-size="12.5" text-anchor="start" fill="#000" stroke="#000" stroke-width="0.15"><tspan dy="0">Ta</tspan><tspan font-size="8.8" dy="2.7">4</tspan><tspan dy="-2.7">C</tspan><tspan font-size="8.8" dy="2.7">3</tspan></text>
<rect x="390.3" y="188.35" width="73.2" height="78.9" fill="#fff"/>
<clipPath id="ic1"><rect x="390.3" y="188.35" width="73.2" height="78.9"/></clipPath>
<g clip-path="url(#ic1)">
<line x1="375.66" y1="279.51" x2="478.14" y2="205.87" stroke="rgb(150,150,205)" stroke-width="0.9"/>
<circle cx="471.55" cy="210.6" r="1.1" fill="rgb(150,150,205)"/>
<circle cx="456.18" cy="221.65" r="1.1" fill="rgb(150,150,205)"/>
<circle cx="440.81" cy="232.69" r="1.1" fill="rgb(150,150,205)"/>
<circle cx="425.44" cy="243.74" r="1.1" fill="rgb(150,150,205)"/>
<circle cx="410.06" cy="254.78" r="1.1" fill="rgb(150,150,205)"/>
<circle cx="394.69" cy="265.83" r="1.1" fill="rgb(150,150,205)"/>
<circle cx="379.32" cy="276.88" r="1.1" fill="rgb(150,150,205)"/>
<line x1="375.66" y1="248.31" x2="478.14" y2="174.67" stroke="rgb(30,125,255)" stroke-width="0.9"/>
<circle cx="471.55" cy="179.41" r="1.1" fill="rgb(30,125,255)"/>
<circle cx="456.18" cy="190.45" r="1.1" fill="rgb(30,125,255)"/>
<circle cx="440.81" cy="201.5" r="1.1" fill="rgb(30,125,255)"/>
<circle cx="425.44" cy="212.55" r="1.1" fill="rgb(30,125,255)"/>
<circle cx="410.06" cy="223.59" r="1.1" fill="rgb(30,125,255)"/>
<circle cx="394.69" cy="234.64" r="1.1" fill="rgb(30,125,255)"/>
<circle cx="379.32" cy="245.68" r="1.1" fill="rgb(30,125,255)"/>
<line x1="375.66" y1="287.76" x2="478.14" y2="214.12" stroke="rgb(225,110,0)" stroke-width="0.9"/>
<circle cx="471.55" cy="218.86" r="1.1" fill="rgb(225,110,0)"/>
<circle cx="456.18" cy="229.9" r="1.1" fill="rgb(225,110,0)"/>
<circle cx="440.81" cy="240.95" r="1.1" fill="rgb(225,110,0)"/>
<circle cx="425.44" cy="252" r="1.1" fill="rgb(225,110,0)"/>
<circle cx="410.06" cy="263.04" r="1.1" fill="rgb(225,110,0)"/>
<circle cx="394.69" cy="274.09" r="1.1" fill="rgb(225,110,0)"/>
<circle cx="379.32" cy="285.13" r="1.1" fill="rgb(225,110,0)"/>
<line x1="375.66" y1="221.38" x2="478.14" y2="147.74" stroke="rgb(170,25,245)" stroke-width="0.9"/>
<circle cx="471.55" cy="152.48" r="1.1" fill="rgb(170,25,245)"/>
<circle cx="456.18" cy="163.52" r="1.1" fill="rgb(170,25,245)"/>
<circle cx="440.81" cy="174.57" r="1.1" fill="rgb(170,25,245)"/>
<circle cx="425.44" cy="185.61" r="1.1" fill="rgb(170,25,245)"/>
<circle cx="410.06" cy="196.66" r="1.1" fill="rgb(170,25,245)"/>
<circle cx="394.69" cy="207.71" r="1.1" fill="rgb(170,25,245)"/>
<circle cx="379.32" cy="218.75" r="1.1" fill="rgb(170,25,245)"/>
<line x1="375.66" y1="226.64" x2="478.14" y2="153" stroke="rgb(0,0,110)" stroke-width="0.9"/>
<circle cx="471.55" cy="157.74" r="1.1" fill="rgb(0,0,110)"/>
<circle cx="456.18" cy="168.78" r="1.1" fill="rgb(0,0,110)"/>
<circle cx="440.81" cy="179.83" r="1.1" fill="rgb(0,0,110)"/>
<circle cx="425.44" cy="190.87" r="1.1" fill="rgb(0,0,110)"/>
<circle cx="410.06" cy="201.92" r="1.1" fill="rgb(0,0,110)"/>
<circle cx="394.69" cy="212.97" r="1.1" fill="rgb(0,0,110)"/>
<circle cx="379.32" cy="224.01" r="1.1" fill="rgb(0,0,110)"/>
</g>
<path d="M390.3,188.35v4M408.6,188.35v2M426.9,188.35v4M445.2,188.35v2M463.5,188.35v4M390.3,188.35h2M390.3,201.5h4.5M390.3,214.65h2M390.3,227.8h4.5M390.3,240.95h2M390.3,254.1h4.5M390.3,267.25h2" stroke="#222" stroke-width="0.9" fill="none"/>
<path d="M463.5,188.35V267.25" stroke="#888" stroke-width="1.1" fill="none"/>
<path d="M463.5,188.35H390.3V267.25H463.5" stroke="#2a2a2a" stroke-width="0.9" fill="none"/>
<text x="390.3" y="185" font-size="6.6" text-anchor="middle" fill="#000" stroke="#000" stroke-width="0.25">-3.0</text>
<text x="426.9" y="185" font-size="6.6" text-anchor="middle" fill="#000" stroke="#000" stroke-width="0.25">-2.5</text>
<text x="463.5" y="185" font-size="6.6" text-anchor="middle" fill="#000" stroke="#000" stroke-width="0.25">-2.0</text>
<text x="388.9" y="203.9" font-size="6.6" text-anchor="end" fill="#000" stroke="#000" stroke-width="0.25">-20.0</text>
<text x="388.9" y="230.2" font-size="6.6" text-anchor="end" fill="#000" stroke="#000" stroke-width="0.25">-20.5</text>
<text x="388.9" y="256.5" font-size="6.6" text-anchor="end" fill="#000" stroke="#000" stroke-width="0.25">-21.0</text>
<path d="M489.9,55.5v12M508.96,55.5v6M528.02,55.5v12M547.08,55.5v6M566.14,55.5v12M585.2,55.5v6M604.26,55.5v12M623.32,55.5v6M642.38,55.5v12M661.44,55.5v6M680.5,55.5v12M489.9,55.5h12M489.9,70.76h6M489.9,86.03h12M489.9,101.29h6M489.9,116.56h12M489.9,131.82h6M489.9,147.09h12M489.9,162.35h6M489.9,177.61h12M489.9,192.88h6M489.9,208.14h12M489.9,223.41h6M489.9,238.67h12M489.9,253.94h6M489.9,269.2h12" stroke="#000" stroke-width="1.3" fill="none"/>
<clipPath id="cp2"><rect x="489.9" y="55.5" width="190.6" height="213.7"/></clipPath>
<g clip-path="url(#cp2)">
<line x1="482.28" y1="249.97" x2="680.5" y2="91.22" stroke="rgb(30,125,255)" stroke-width="1.3"/>
</g>
<rect x="678.7" y="89.42" width="3.6" height="3.6" fill="none" stroke="rgb(30,125,255)" stroke-width="1.0"/>
<rect x="670.69" y="95.83" width="3.6" height="3.6" fill="none" stroke="rgb(30,125,255)" stroke-width="1.0"/>
<rect x="662.69" y="102.24" width="3.6" height="3.6" fill="none" stroke="rgb(30,125,255)" stroke-width="1.0"/>
<rect x="654.68" y="108.65" width="3.6" height="3.6" fill="none" stroke="rgb(30,125,255)" stroke-width="1.0"/>
<rect x="646.68" y="115.06" width="3.6" height="3.6" fill="none" stroke="rgb(30,125,255)" stroke-width="1.0"/>
<rect x="638.67" y="121.47" width="3.6" height="3.6" fill="none" stroke="rgb(30,125,255)" stroke-width="1.0"/>
<rect x="630.67" y="127.88" width="3.6" height="3.6" fill="none" stroke="rgb(30,125,255)" stroke-width="1.0"/>
<rect x="622.66" y="134.3" width="3.6" height="3.6" fill="none" stroke="rgb(30,125,255)" stroke-width="1.0"/>
<rect x="614.66" y="140.71" width="3.6" height="3.6" fill="none" stroke="rgb(30,125,255)" stroke-width="1.0"/>
<rect x="606.65" y="147.12" width="3.6" height="3.6" fill="none" stroke="rgb(30,125,255)" stroke-width="1.0"/>
<rect x="598.65" y="153.53" width="3.6" height="3.6" fill="none" stroke="rgb(30,125,255)" stroke-width="1.0"/>
<rect x="590.64" y="159.94" width="3.6" height="3.6" fill="none" stroke="rgb(30,125,255)" stroke-width="1.0"/>
<rect x="582.64" y="166.35" width="3.6" height="3.6" fill="none" stroke="rgb(30,125,255)" stroke-width="1.0"/>
<rect x="574.63" y="172.76" width="3.6" height="3.6" fill="none" stroke="rgb(30,125,255)" stroke-width="1.0"/>
<rect x="566.63" y="179.17" width="3.6" height="3.6" fill="none" stroke="rgb(30,125,255)" stroke-width="1.0"/>
<rect x="558.62" y="185.58" width="3.6" height="3.6" fill="none" stroke="rgb(30,125,255)" stroke-width="1.0"/>
<rect x="550.62" y="191.99" width="3.6" height="3.6" fill="none" stroke="rgb(30,125,255)" stroke-width="1.0"/>
<rect x="542.61" y="198.41" width="3.6" height="3.6" fill="none" stroke="rgb(30,125,255)" stroke-width="1.0"/>
<rect x="534.61" y="204.82" width="3.6" height="3.6" fill="none" stroke="rgb(30,125,255)" stroke-width="1.0"/>
<rect x="526.6" y="211.23" width="3.6" height="3.6" fill="none" stroke="rgb(30,125,255)" stroke-width="1.0"/>
<rect x="518.6" y="217.64" width="3.6" height="3.6" fill="none" stroke="rgb(30,125,255)" stroke-width="1.0"/>
<rect x="510.59" y="224.05" width="3.6" height="3.6" fill="none" stroke="rgb(30,125,255)" stroke-width="1.0"/>
<rect x="502.59" y="230.46" width="3.6" height="3.6" fill="none" stroke="rgb(30,125,255)" stroke-width="1.0"/>
<rect x="494.58" y="236.87" width="3.6" height="3.6" fill="none" stroke="rgb(30,125,255)" stroke-width="1.0"/>
<g clip-path="url(#cp2)">
<line x1="482.28" y1="240.2" x2="680.5" y2="81.45" stroke="rgb(30,125,255)" stroke-width="1.3"/>
</g>
<path d="M680.5,83.95L680.5,78.95M678.33,82.7L682.67,80.2M678.33,80.2L682.67,82.7" stroke="rgb(30,125,255)" stroke-width="1.5" fill="none"/>
<circle cx="680.5" cy="81.45" r="1.08" fill="rgb(30,125,255)"/>
<path d="M672.49,90.36L672.49,85.36M670.33,89.11L674.66,86.61M670.33,86.61L674.66,89.11" stroke="rgb(30,125,255)" stroke-width="1.5" fill="none"/>
<circle cx="672.49" cy="87.86" r="1.08" fill="rgb(30,125,255)"/>
<path d="M664.49,96.77L664.49,91.77M662.32,95.52L666.65,93.02M662.32,93.02L666.65,95.52" stroke="rgb(30,125,255)" stroke-width="1.5" fill="none"/>
<circle cx="664.49" cy="94.27" r="1.08" fill="rgb(30,125,255)"/>
<path d="M656.48,103.18L656.48,98.18M654.32,101.93L658.65,99.43M654.32,99.43L658.65,101.93" stroke="rgb(30,125,255)" stroke-width="1.5" fill="none"/>
<circle cx="656.48" cy="100.68" r="1.08" fill="rgb(30,125,255)"/>
<path d="M648.48,109.59L648.48,104.59M646.31,108.34L650.64,105.84M646.31,105.84L650.64,108.34" stroke="rgb(30,125,255)" stroke-width="1.5" fill="none"/>
<circle cx="648.48" cy="107.09" r="1.08" fill="rgb(30,125,255)"/>
<path d="M640.47,116L640.47,111M638.31,114.75L642.64,112.25M638.31,112.25L642.64,114.75" stroke="rgb(30,125,255)" stroke-width="1.5" fill="none"/>
<circle cx="640.47" cy="113.5" r="1.08" fill="rgb(30,125,255)"/>
<path d="M632.47,122.42L632.47,117.42M630.3,121.17L634.63,118.67M630.3,118.67L634.63,121.17" stroke="rgb(30,125,255)" stroke-width="1.5" fill="none"/>
<circle cx="632.47" cy="119.92" r="1.08" fill="rgb(30,125,255)"/>
<path d="M624.46,128.83L624.46,123.83M622.3,127.58L626.63,125.08M622.3,125.08L626.63,127.58" stroke="rgb(30,125,255)" stroke-width="1.5" fill="none"/>
<circle cx="624.46" cy="126.33" r="1.08" fill="rgb(30,125,255)"/>
<path d="M616.46,135.24L616.46,130.24M614.29,133.99L618.62,131.49M614.29,131.49L618.62,133.99" stroke="rgb(30,125,255)" stroke-width="1.5" fill="none"/>
<circle cx="616.46" cy="132.74" r="1.08" fill="rgb(30,125,255)"/>
<path d="M608.45,141.65L608.45,136.65M606.29,140.4L610.62,137.9M606.29,137.9L610.62,140.4" stroke="rgb(30,125,255)" stroke-width="1.5" fill="none"/>
<circle cx="608.45" cy="139.15" r="1.08" fill="rgb(30,125,255)"/>
<path d="M600.45,148.06L600.45,143.06M598.28,146.81L602.61,144.31M598.28,144.31L602.61,146.81" stroke="rgb(30,125,255)" stroke-width="1.5" fill="none"/>
<circle cx="600.45" cy="145.56" r="1.08" fill="rgb(30,125,255)"/>
<path d="M592.44,154.47L592.44,149.47M590.28,153.22L594.61,150.72M590.28,150.72L594.61,153.22" stroke="rgb(30,125,255)" stroke-width="1.5" fill="none"/>
<circle cx="592.44" cy="151.97" r="1.08" fill="rgb(30,125,255)"/>
<path d="M584.44,160.88L584.44,155.88M582.27,159.63L586.6,157.13M582.27,157.13L586.6,159.63" stroke="rgb(30,125,255)" stroke-width="1.5" fill="none"/>
<circle cx="584.44" cy="158.38" r="1.08" fill="rgb(30,125,255)"/>
<path d="M576.43,167.29L576.43,162.29M574.27,166.04L578.6,163.54M574.27,163.54L578.6,166.04" stroke="rgb(30,125,255)" stroke-width="1.5" fill="none"/>
<circle cx="576.43" cy="164.79" r="1.08" fill="rgb(30,125,255)"/>
<path d="M568.43,173.7L568.43,168.7M566.26,172.45L570.59,169.95M566.26,169.95L570.59,172.45" stroke="rgb(30,125,255)" stroke-width="1.5" fill="none"/>
<circle cx="568.43" cy="171.2" r="1.08" fill="rgb(30,125,255)"/>
<path d="M560.42,180.11L560.42,175.11M558.26,178.86L562.59,176.36M558.26,176.36L562.59,178.86" stroke="rgb(30,125,255)" stroke-width="1.5" fill="none"/>
<circle cx="560.42" cy="177.61" r="1.08" fill="rgb(30,125,255)"/>
<path d="M552.42,186.53L552.42,181.53M550.25,185.28L554.58,182.78M550.25,182.78L554.58,185.28" stroke="rgb(30,125,255)" stroke-width="1.5" fill="none"/>
<circle cx="552.42" cy="184.03" r="1.08" fill="rgb(30,125,255)"/>
<path d="M544.41,192.94L544.41,187.94M542.25,191.69L546.58,189.19M542.25,189.19L546.58,191.69" stroke="rgb(30,125,255)" stroke-width="1.5" fill="none"/>
<circle cx="544.41" cy="190.44" r="1.08" fill="rgb(30,125,255)"/>
<path d="M536.41,199.35L536.41,194.35M534.24,198.1L538.57,195.6M534.24,195.6L538.57,198.1" stroke="rgb(30,125,255)" stroke-width="1.5" fill="none"/>
<circle cx="536.41" cy="196.85" r="1.08" fill="rgb(30,125,255)"/>
<path d="M528.4,205.76L528.4,200.76M526.24,204.51L530.57,202.01M526.24,202.01L530.57,204.51" stroke="rgb(30,125,255)" stroke-width="1.5" fill="none"/>
<circle cx="528.4" cy="203.26" r="1.08" fill="rgb(30,125,255)"/>
<path d="M520.4,212.17L520.4,207.17M518.23,210.92L522.56,208.42M518.23,208.42L522.56,210.92" stroke="rgb(30,125,255)" stroke-width="1.5" fill="none"/>
<circle cx="520.4" cy="209.67" r="1.08" fill="rgb(30,125,255)"/>
<path d="M512.39,218.58L512.39,213.58M510.23,217.33L514.56,214.83M510.23,214.83L514.56,217.33" stroke="rgb(30,125,255)" stroke-width="1.5" fill="none"/>
<circle cx="512.39" cy="216.08" r="1.08" fill="rgb(30,125,255)"/>
<path d="M504.39,224.99L504.39,219.99M502.22,223.74L506.55,221.24M502.22,221.24L506.55,223.74" stroke="rgb(30,125,255)" stroke-width="1.5" fill="none"/>
<circle cx="504.39" cy="222.49" r="1.08" fill="rgb(30,125,255)"/>
<path d="M496.38,231.4L496.38,226.4M494.22,230.15L498.55,227.65M494.22,227.65L498.55,230.15" stroke="rgb(30,125,255)" stroke-width="1.5" fill="none"/>
<circle cx="496.38" cy="228.9" r="1.08" fill="rgb(30,125,255)"/>
<g clip-path="url(#cp2)">
<line x1="482.28" y1="235.31" x2="680.5" y2="76.56" stroke="rgb(30,125,255)" stroke-width="1.3"/>
</g>
<rect x="677.9" y="73.96" width="5.2" height="5.2" fill="rgb(30,125,255)"/>
<rect x="669.89" y="80.38" width="5.2" height="5.2" fill="rgb(30,125,255)"/>
<rect x="661.89" y="86.79" width="5.2" height="5.2" fill="rgb(30,125,255)"/>
<rect x="653.88" y="93.2" width="5.2" height="5.2" fill="rgb(30,125,255)"/>
<rect x="645.88" y="99.61" width="5.2" height="5.2" fill="rgb(30,125,255)"/>
<rect x="637.87" y="106.02" width="5.2" height="5.2" fill="rgb(30,125,255)"/>
<rect x="629.87" y="112.43" width="5.2" height="5.2" fill="rgb(30,125,255)"/>
<rect x="621.86" y="118.84" width="5.2" height="5.2" fill="rgb(30,125,255)"/>
<rect x="613.86" y="125.25" width="5.2" height="5.2" fill="rgb(30,125,255)"/>
<rect x="605.85" y="131.66" width="5.2" height="5.2" fill="rgb(30,125,255)"/>
<rect x="597.85" y="138.07" width="5.2" height="5.2" fill="rgb(30,125,255)"/>
<rect x="589.84" y="144.49" width="5.2" height="5.2" fill="rgb(30,125,255)"/>
<rect x="581.84" y="150.9" width="5.2" height="5.2" fill="rgb(30,125,255)"/>
<rect x="573.83" y="157.31" width="5.2" height="5.2" fill="rgb(30,125,255)"/>
<rect x="565.83" y="163.72" width="5.2" height="5.2" fill="rgb(30,125,255)"/>
<rect x="557.82" y="170.13" width="5.2" height="5.2" fill="rgb(30,125,255)"/>
<rect x="549.82" y="176.54" width="5.2" height="5.2" fill="rgb(30,125,255)"/>
<rect x="541.81" y="182.95" width="5.2" height="5.2" fill="rgb(30,125,255)"/>
<rect x="533.81" y="189.36" width="5.2" height="5.2" fill="rgb(30,125,255)"/>
<rect x="525.8" y="195.77" width="5.2" height="5.2" fill="rgb(30,125,255)"/>
<rect x="517.8" y="202.18" width="5.2" height="5.2" fill="rgb(30,125,255)"/>
<rect x="509.79" y="208.6" width="5.2" height="5.2" fill="rgb(30,125,255)"/>
<rect x="501.79" y="215.01" width="5.2" height="5.2" fill="rgb(30,125,255)"/>
<rect x="493.78" y="221.42" width="5.2" height="5.2" fill="rgb(30,125,255)"/>
<rect x="489.9" y="55.5" width="190.6" height="213.7" fill="none" stroke="#000" stroke-width="1.25"/>
<text x="489.9" y="48.8" font-size="17.5" text-anchor="middle" fill="#000" stroke="#000" stroke-width="0.25">-5</text>
<text x="528.02" y="48.8" font-size="17.5" text-anchor="middle" fill="#000" stroke="#000" stroke-width="0.25">-4</text>
<text x="566.14" y="48.8" font-size="17.5" text-anchor="middle" fill="#000" stroke="#000" stroke-width="0.25">-3</text>
<text x="604.26" y="48.8" font-size="17.5" text-anchor="middle" fill="#000" stroke="#000" stroke-width="0.25">-2</text>
<text x="642.38" y="48.8" font-size="17.5" text-anchor="middle" fill="#000" stroke="#000" stroke-width="0.25">-1</text>
<text x="680.5" y="48.8" font-size="17.5" text-anchor="middle" fill="#000" stroke="#000" stroke-width="0.25">0</text>
<text x="479.8" y="16.4" font-size="22" text-anchor="start" fill="#000" stroke="#000" stroke-width="0.25">(c)</text>
<text x="549.4" y="16.4" font-size="22" text-anchor="start" fill="#000" stroke="#000" stroke-width="0.25"><tspan font-size="21">μ</tspan><tspan font-size="15" dy="7.9">Cl</tspan><tspan dy="-7.9" font-size="21.4"> (eV)</tspan></text>
<line x1="508.5" y1="74.8" x2="520.4" y2="74.8" stroke="rgb(30,125,255)" stroke-width="1.0"/>
<rect x="506.6" y="72.9" width="3.8" height="3.8" fill="#fff" stroke="rgb(30,125,255)" stroke-width="1.0"/>
<rect x="518.5" y="72.9" width="3.8" height="3.8" fill="#fff" stroke="rgb(30,125,255)" stroke-width="1.0"/>
<text x="529.1" y="79.3" font-size="12.5" text-anchor="start" fill="#000" stroke="#000" stroke-width="0.15"><tspan dy="0">Ti</tspan><tspan font-size="8.8" dy="2.7">2</tspan><tspan dy="-2.7">C</tspan></text>
<line x1="508.5" y1="93.1" x2="520.4" y2="93.1" stroke="rgb(30,125,255)" stroke-width="1.0"/>
<path d="M508.5,96.1L508.5,90.1M505.9,94.6L511.1,91.6M505.9,91.6L511.1,94.6" stroke="rgb(30,125,255)" stroke-width="1.25" fill="none"/>
<circle cx="508.5" cy="93.1" r="0.9" fill="rgb(30,125,255)"/>
<path d="M520.4,96.1L520.4,90.1M517.8,94.6L523,91.6M517.8,91.6L523,94.6" stroke="rgb(30,125,255)" stroke-width="1.25" fill="none"/>
<circle cx="520.4" cy="93.1" r="0.9" fill="rgb(30,125,255)"/>
<text x="529.1" y="97.6" font-size="12.5" text-anchor="start" fill="#000" stroke="#000" stroke-width="0.15"><tspan dy="0">Ti</tspan><tspan font-size="8.8" dy="2.7">3</tspan><tspan dy="-2.7">C</tspan><tspan font-size="8.8" dy="2.7">2</tspan></text>
<line x1="508.5" y1="111.8" x2="520.4" y2="111.8" stroke="rgb(30,125,255)" stroke-width="1.0"/>
<rect x="506" y="109.3" width="5" height="5" fill="rgb(30,125,255)"/>
<rect x="517.9" y="109.3" width="5" height="5" fill="rgb(30,125,255)"/>
<text x="529.1" y="116.3" font-size="12.5" text-anchor="start" fill="#000" stroke="#000" stroke-width="0.15"><tspan dy="0">Ti</tspan><tspan font-size="8.8" dy="2.7">4</tspan><tspan dy="-2.7">C</tspan><tspan font-size="8.8" dy="2.7">3</tspan></text>
<defs><linearGradient id="gg" x1="0" y1="0" x2="0" y2="1"><stop offset="0" stop-color="rgb(125,205,95)"/><stop offset="1" stop-color="rgb(45,110,35)"/></linearGradient><linearGradient id="gr" x1="0" y1="0" x2="0" y2="1"><stop offset="0" stop-color="rgb(255,185,185)"/><stop offset="0.55" stop-color="rgb(255,30,30)"/><stop offset="1" stop-color="rgb(235,0,0)"/></linearGradient></defs>
<rect x="594.1" y="216.2" width="7.2" height="37.8" fill="url(#gg)"/>
<rect x="602.3" y="198.9" width="7.2" height="55.1" fill="url(#gr)"/>
<rect x="615.2" y="225.8" width="7.2" height="28.2" fill="url(#gg)"/>
<rect x="623.4" y="203.5" width="7.2" height="50.5" fill="url(#gr)"/>
<rect x="636.3" y="231.2" width="7.2" height="22.8" fill="url(#gg)"/>
<rect x="644.5" y="206.8" width="7.2" height="47.2" fill="url(#gr)"/>
<path d="M587.3,187.5V254H658.3V187.5" stroke="#000" stroke-width="1.2" fill="none"/>
<text x="0" y="2.2" font-size="5.9" text-anchor="middle" stroke="#000" stroke-width="0.3" transform="translate(596,211) rotate(-36) scale(1.0,1)">-3.91</text>
<text x="0" y="2.2" font-size="5.9" text-anchor="middle" stroke="#000" stroke-width="0.3" transform="translate(617.5,221.4) rotate(-36) scale(1.0,1)">-3.82</text>
<text x="0" y="2.2" font-size="5.9" text-anchor="middle" stroke="#000" stroke-width="0.3" transform="translate(639.6,226) rotate(-36) scale(1.0,1)">-3.77</text>
<text x="0" y="2.2" font-size="5.9" text-anchor="middle" stroke="#000" stroke-width="0.3" transform="translate(604.4,193.6) rotate(-36) scale(1.0,1)">-22.08</text>
<text x="0" y="2.2" font-size="5.9" text-anchor="middle" stroke="#000" stroke-width="0.3" transform="translate(624.5,198.9) rotate(-36) scale(1.0,1)">-21.68</text>
<text x="0" y="2.2" font-size="5.9" text-anchor="middle" stroke="#000" stroke-width="0.3" transform="translate(645.4,202) rotate(-36) scale(1.0,1)">-21.48</text>
<text x="0" y="0" font-size="9.6" text-anchor="middle" stroke="#000" stroke-width="0.3" transform="translate(602.4,263.7) scale(0.86,1)"><tspan dy="0">Ti</tspan><tspan font-size="6.6" dy="1.9">2</tspan><tspan dy="-1.9">C</tspan></text>
<text x="0" y="0" font-size="9.6" text-anchor="middle" stroke="#000" stroke-width="0.3" transform="translate(623.65,263.7) scale(0.86,1)"><tspan dy="0">Ti</tspan><tspan font-size="6.6" dy="1.9">3</tspan><tspan dy="-1.9">C</tspan><tspan font-size="6.6" dy="1.9">2</tspan></text>
<text x="0" y="0" font-size="9.6" text-anchor="middle" stroke="#000" stroke-width="0.3" transform="translate(645.75,263.7) scale(0.86,1)"><tspan dy="0">Ti</tspan><tspan font-size="6.6" dy="1.9">4</tspan><tspan dy="-1.9">C</tspan><tspan font-size="6.6" dy="1.9">3</tspan></text>
<text x="0" y="0" font-size="10.9" fill="rgb(55,140,38)" stroke="rgb(50,140,35)" stroke-width="0.2" transform="translate(579.4,239.0) rotate(-90)">μ<tspan font-size="7.6" dy="2.8">Cl</tspan><tspan dy="-2.8"> (eV)</tspan></text>
<text x="0" y="0" font-size="10.9" fill="rgb(215,20,20)" stroke="rgb(215,20,20)" stroke-width="0.2" transform="translate(671.3,242.0) rotate(-90)">μ<tspan font-size="7" dy="3.2">BO</tspan><tspan font-size="4.6" dy="-0.9">2</tspan><tspan dy="-2.3"> (eV)</tspan></text>
<text x="0" y="0" font-size="22" transform="translate(16.3,205.9) rotate(-90)">μ<tspan font-size="15" dy="8">BO</tspan><tspan font-size="10.5" dy="4.5">2</tspan><tspan dy="-12.5"> (eV)</tspan></text>
</svg></body></html>
